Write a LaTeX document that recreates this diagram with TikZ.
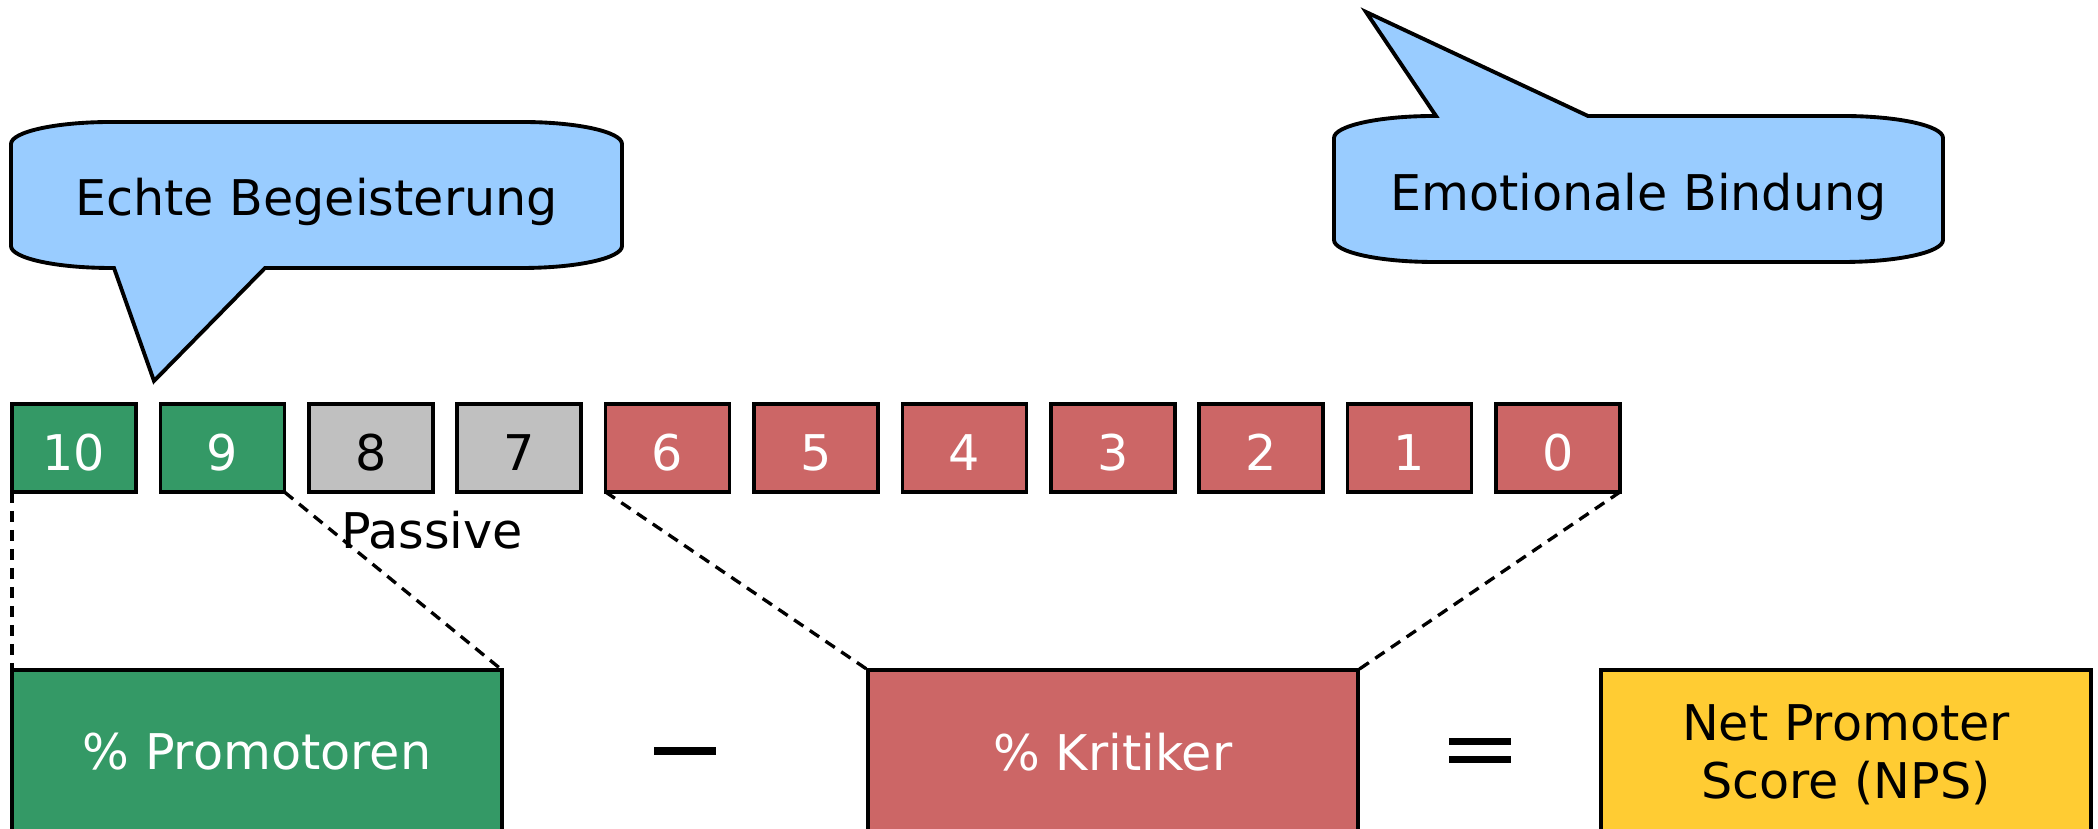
\documentclass[tikz,border=0pt]{standalone}
\usepackage{fontspec}
\setmainfont{DejaVu Sans}
\usepackage{tikz}
\usetikzlibrary{positioning}

\definecolor{npsgreen}{RGB}{52,153,102}
\definecolor{npsred}{RGB}{204,102,102}
\definecolor{npsgray}{RGB}{192,192,192}
\definecolor{npsblue}{RGB}{153,204,255}
\definecolor{npsyellow}{RGB}{255,204,51}

\begin{document}
\begin{tikzpicture}[x=1cm,y=1cm,node distance=0.244cm]
  \tikzstyle{every node}=[font=\fontsize{14}{16.5}\selectfont]
  \tikzstyle{score}=[draw=black,line width=1pt,minimum width=1.24cm,minimum height=0.88cm,inner sep=0pt,outer sep=0pt,text height=0.46cm,text depth=0cm]
  \tikzstyle{promo}=[score,fill=npsgreen,text=white]
  \tikzstyle{passiv}=[score,fill=npsgray,text=black]
  \tikzstyle{kritik}=[score,fill=npsred,text=white]
  \tikzstyle{result}=[draw=black,line width=1pt,minimum width=4.9cm,minimum height=1.64cm,inner sep=0pt,outer sep=0pt,align=center]
  \tikzstyle{balloon}=[draw=black,line width=1.1pt,fill=npsblue,line join=miter]
  \tikzstyle{zoomline}=[draw=black,line width=0.95pt,dash pattern=on 3.2pt off 2.2pt]

  \path[use as bounding box,clip] (0,0) rectangle (20.98,8.29);

  % Scale 10 ... 0
  \node[promo] (s10) at (0.74,3.81) {10};
  \node[promo] (s9) [right=of s10] {9};
  \node[passiv] (s8) [right=of s9] {8};
  \node[passiv] (s7) [right=of s8] {7};
  \node[kritik] (s6) [right=of s7] {6};
  \node[kritik] (s5) [right=of s6] {5};
  \node[kritik] (s4) [right=of s5] {4};
  \node[kritik] (s3) [right=of s4] {3};
  \node[kritik] (s2) [right=of s3] {2};
  \node[kritik] (s1) [right=of s2] {1};
  \node[kritik] (s0) [right=of s1] {0};

  \node (passive) at (4.32,2.99) {Passive};

  % Result row
  \node[result,fill=npsgreen,text=white] (prom) [below right=1.78cm and 0cm of s10.south west] {\% Promotoren};
  \node[result,fill=npsred,text=white] (krit) [right=3.66cm of prom] {\% Kritiker};
  \node[result,fill=npsyellow,text=black,text depth=0pt] (nps) [right=2.43cm of krit] {Net Promoter\\Score (NPS)};

  % Minus and equals
  \draw[line width=2.3pt] (6.54,0.78) -- (7.16,0.78);
  \draw[line width=1.8pt] (14.49,0.875) -- (15.11,0.875);
  \draw[line width=1.8pt] (14.49,0.695) -- (15.11,0.695);

  % Dashed lines from the scale to the result boxes
  \draw[zoomline] (s10.south west) -- (prom.north west);
  \draw[zoomline] (s9.south east) -- (prom.north east);
  \draw[zoomline] (s6.south west) -- (krit.north west);
  \draw[zoomline] (s0.south east) -- (krit.north east);

  % Left balloon
  \coordinate (tip1) at (1.54,4.48);
  \draw[balloon] (0.11,6.85) arc[start angle=180,end angle=90,x radius=1cm,y radius=0.22cm]
    -- (5.22,7.07) arc[start angle=90,end angle=0,x radius=1cm,y radius=0.22cm]
    -- (6.22,5.83) arc[start angle=0,end angle=-90,x radius=1cm,y radius=0.22cm]
    -- (2.65,5.61) -- (tip1) -- (1.14,5.61)
    -- (1.11,5.61) arc[start angle=270,end angle=180,x radius=1cm,y radius=0.22cm] -- cycle;
  \node (echte) at (3.165,6.27) {Echte Begeisterung};

  % Right balloon
  \coordinate (tip2) at (13.66,8.17);
  \draw[balloon] (13.34,6.91) arc[start angle=180,end angle=90,x radius=1cm,y radius=0.22cm]
    -- (14.36,7.13) -- (tip2) -- (15.88,7.13)
    -- (18.43,7.13) arc[start angle=90,end angle=0,x radius=1cm,y radius=0.22cm]
    -- (19.43,5.89) arc[start angle=0,end angle=-90,x radius=1cm,y radius=0.22cm]
    -- (14.34,5.67) arc[start angle=270,end angle=180,x radius=1cm,y radius=0.22cm] -- cycle;
  \node (emo) at (16.385,6.32) {Emotionale Bindung};
\end{tikzpicture}
\end{document}
